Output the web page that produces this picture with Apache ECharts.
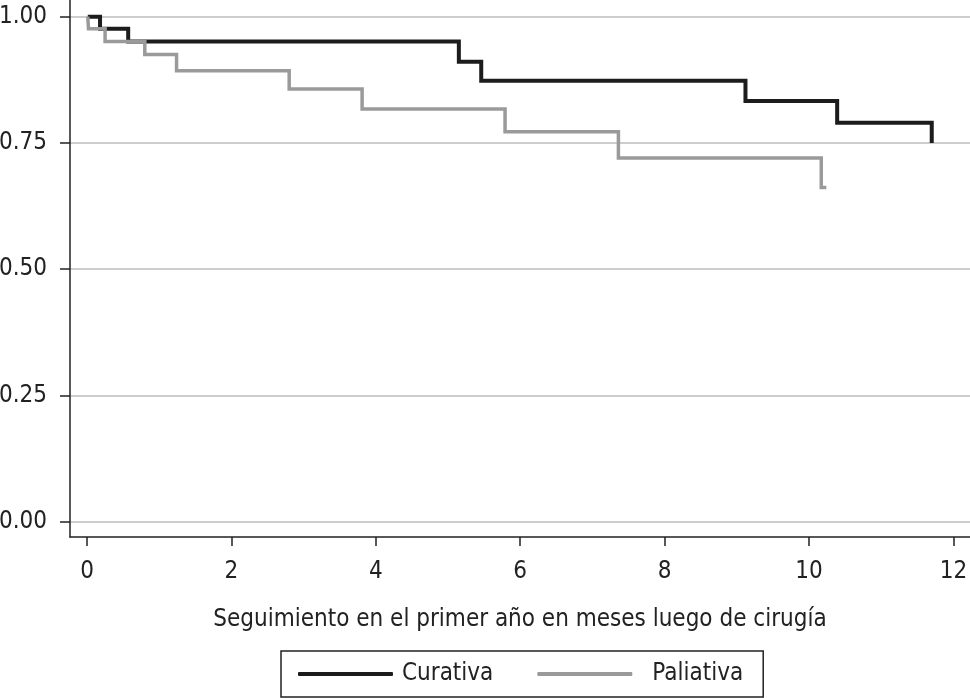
<!DOCTYPE html>
<html>
<head>
<meta charset="utf-8">
<script src="https://cdn.jsdelivr.net/npm/echarts@6/dist/echarts.min.js"></script>
<style>
html,body{margin:0;padding:0;background:#fff;}
#chart{width:970px;height:698px;}
</style>
</head>
<body>
<div id="chart"></div>
<script>
// Kaplan-Meier step data (time in months, survival)
const curativaTimes = [0.01, 0.18, 0.57, 5.15, 5.46, 9.12, 10.39, 11.70];
const curativaSurv  = [1.000, 0.976, 0.951, 0.911, 0.873, 0.833, 0.790, 0.750];
const paliativaTimes = [0.01, 0.02, 0.25, 0.80, 1.24, 2.80, 3.81, 5.79, 7.36, 10.17, 10.24];
const paliativaSurv  = [1.000, 0.976, 0.951, 0.925, 0.893, 0.857, 0.817, 0.772, 0.720, 0.662, 0.662];
const xTicks = [0, 2, 4, 6, 8, 10, 12];
const yTicks = [0, 0.25, 0.5, 0.75, 1];
const seriesNames = ['Curativa', 'Paliativa'];
const xTitle = 'Seguimiento en el primer año en meses luego de cirugía';

const FONT = "'Liberation Sans Narrow','Arial Narrow','DejaVu Sans Condensed',sans-serif";
const chart = echarts.init(document.getElementById('chart'), null, {renderer: 'canvas'});

function zip(t, s) { return t.map((v, i) => [v, s[i]]); }

chart.setOption({
  backgroundColor: '#fff',
  animation: false,
  grid: { left: 70, right: 0, top: 0, bottom: 161, containLabel: false, outerBoundsMode: 'none' },
  xAxis: {
    type: 'value',
    min: -0.236, max: 12.23,
    name: xTitle,
    nameLocation: 'middle',
    nameGap: 71,
    nameTextStyle: { fontFamily: FONT, fontSize: 24, color: '#222' },
    axisLine: { show: true, onZero: false, lineStyle: { color: '#222', width: 1.5 } },
    axisTick: { show: true, customValues: xTicks, length: 9, lineStyle: { color: '#222', width: 1.5 } },
    axisLabel: { customValues: xTicks, margin: 23, fontFamily: FONT, fontSize: 24, color: '#222',
                 formatter: v => String(v) },
    splitLine: { show: false }
  },
  yAxis: {
    type: 'value',
    min: -0.0304, max: 1.0331,
    axisLine: { show: true, onZero: false, lineStyle: { color: '#222', width: 1.5 } },
    axisTick: { show: true, customValues: yTicks, length: 10, lineStyle: { color: '#222', width: 1.5 } },
    axisLabel: { customValues: yTicks, margin: 23, fontFamily: FONT, fontSize: 24, color: '#222',
                 formatter: v => Number(v).toFixed(2) },
    splitLine: { show: true, lineStyle: { color: '#bdbdbd', width: 1.5 } }
  },
  legend: {
    left: 281, top: 651,
    padding: [11, 20, 11, 17],
    borderColor: '#222', borderWidth: 1.5,
    itemWidth: 95, itemHeight: 4, itemGap: 44,
    icon: 'roundRect',
    data: seriesNames,
    formatter: name => name === 'Curativa' ? '{c|' + name + '}' : '{p|' + name + '}',
    textStyle: {
      fontFamily: FONT, fontSize: 24, color: '#222',
      rich: {
        c: { fontFamily: FONT, fontSize: 24, color: '#222', padding: [0, 0, 0, 4] },
        p: { fontFamily: FONT, fontSize: 24, color: '#222', padding: [0, 0, 0, 15] }
      }
    }
  },
  series: [
    {
      name: 'Curativa', type: 'line', step: 'end', showSymbol: false, symbol: 'none',
      data: zip(curativaTimes, curativaSurv),
      itemStyle: { color: '#1c1c1c' },
      lineStyle: { color: '#1c1c1c', width: 4, join: 'miter', cap: 'butt' },
      z: 2
    },
    {
      name: 'Paliativa', type: 'line', step: 'end', showSymbol: false, symbol: 'none',
      data: zip(paliativaTimes, paliativaSurv),
      itemStyle: { color: '#9a9a9a' },
      lineStyle: { color: '#9a9a9a', width: 3.5, join: 'miter', cap: 'butt' },
      z: 3
    }
  ]
});
</script>
</body>
</html>
